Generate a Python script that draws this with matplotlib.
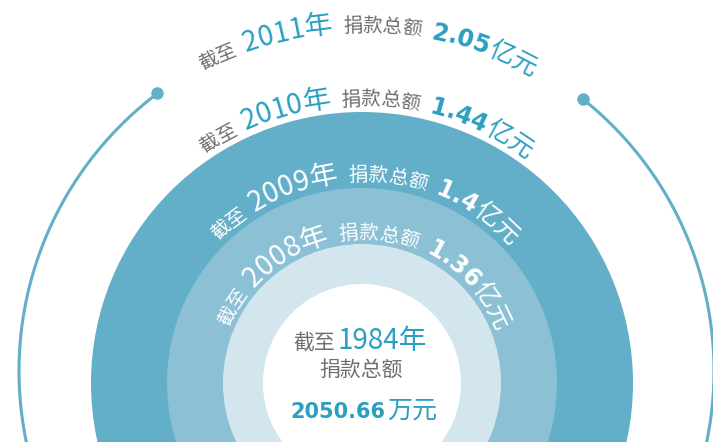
import matplotlib
matplotlib.use('Agg')
import matplotlib.pyplot as plt
from matplotlib.patches import Circle
from matplotlib.font_manager import FontProperties
from matplotlib.textpath import TextToPath
import numpy as np

# ---- data ----
years = ['1984', '2008', '2009', '2010', '2011']
amounts = ['2050.66', '1.36', '1.4', '1.44', '2.05']
units = ['万元', '亿元', '亿元', '亿元', '亿元']
prefix = '截至'
label_mid = '捐款总额'

# ---- style ----
W, H = 713, 442
DPI = 100
BLUE = '#2a9fc1'
GRAY = '#6e6e6e'
DARK = '#63aec8'
MID = '#8bc0d5'
PALE = '#d3e6ee'

CJK = ['Noto Sans CJK SC', 'DejaVu Sans']
LIGHT = ['Noto Sans CJK SC', 'DejaVu Sans']
BOLD = ['DejaVu Sans', 'Noto Sans CJK SC']

fig = plt.figure(figsize=(W / DPI, H / DPI), dpi=DPI)
ax = fig.add_axes([0, 0, 1, 1])
ax.set_xlim(0, W)
ax.set_ylim(H, 0)
ax.set_aspect('equal')
ax.axis('off')

cx, cy = 362, 383
ax.add_patch(Circle((cx, cy), 271, color=DARK, lw=0))
ax.add_patch(Circle((cx, cy), 195, color=MID, lw=0))
ax.add_patch(Circle((cx, cy), 139, color=PALE, lw=0))
ax.add_patch(Circle((cx, cy), 99, color='white', lw=0))

# outer arc with end dots
acx, acy, ar = 366.5, 371, 347.5
a1, a2 = 51.5, 127.0  # gap at top (math angles, y up)
th = np.radians(np.linspace(a2, a1 + 360, 400))
ax.plot(acx + ar * np.cos(th), acy - ar * np.sin(th), color=DARK, lw=2.2,
        solid_capstyle='round')
for a in (a1, a2):
    ax.plot(acx + ar * np.cos(np.radians(a)), acy - ar * np.sin(np.radians(a)),
            'o', color=DARK, ms=9, mec='none')

t2p = TextToPath()
PT2PX = DPI / 72.0


def width_px(s, prop):
    if not s:
        return 0.0
    w, h, d = t2p.get_text_width_height_descent(s, prop, ismath=False)
    return w * PT2PX


def curved(segments, r_base, center_deg):
    """segments: list of (text, size_pt, color, family, weight, gap_after_px)"""
    items = []
    pos = 0.0
    for text, size, color, fam, weight, gap in segments:
        prop = FontProperties(family=fam, size=size, weight=weight)
        for i, ch in enumerate(text):
            P = width_px(text[:i + 1], prop)
            wi = width_px(ch, prop)
            items.append((ch, pos + P - wi / 2, size, color, fam, weight))
        pos += width_px(text, prop) + gap
    total = pos - segments[-1][5]
    for ch, off, size, color, fam, weight in items:
        s = off - total / 2
        ang = np.radians(center_deg) - s / r_base
        x = cx + r_base * np.cos(ang)
        y = cy - r_base * np.sin(ang)
        ax.text(x, y, ch, fontsize=size, color=color, family=fam, weight=weight,
                rotation=np.degrees(ang) - 90, rotation_mode='anchor',
                ha='center', va='baseline')


label_radii = {'2008': 144, '2009': 202, '2010': 278, '2011': 351}
for yr, amt, un in zip(years[1:], amounts[1:], units[1:]):
    inside = yr in ('2008', '2009')
    g = 'white' if inside else GRAY
    b = 'white' if inside else BLUE
    segs = [
        (prefix, 14, g, CJK, 'normal', 8),
        (yr + '年', 20, b, LIGHT, 'light', 10),
        (label_mid, 14, g, CJK, 'normal', 10),
        (amt, 17, b, BOLD, 'bold', 1),
        (un, 18, b, CJK, 'normal', 0),
    ]
    curved(segs, label_radii[yr], 89.0)

# centre text
def line(segments, x_center, y_base):
    widths = []
    for text, size, color, fam, weight in segments:
        prop = FontProperties(family=fam, size=size, weight=weight)
        widths.append(width_px(text, prop))
    gap = 2
    total = sum(widths) + gap * (len(segments) - 1)
    x = x_center - total / 2
    for (text, size, color, fam, weight), w in zip(segments, widths):
        ax.text(x, y_base, text, fontsize=size, color=color, family=fam,
                weight=weight, ha='left', va='baseline')
        x += w + gap

line([(prefix, 15, GRAY, CJK, 'normal'),
      (years[0] + '年', 20, BLUE, LIGHT, 'light')], 360, 349)
line([(label_mid, 15, GRAY, CJK, 'normal')], 361, 376)
line([(amounts[0], 15, BLUE, BOLD, 'bold'),
      (units[0], 18, BLUE, CJK, 'normal')], 364, 418)

fig.savefig('out.png', dpi=DPI)
